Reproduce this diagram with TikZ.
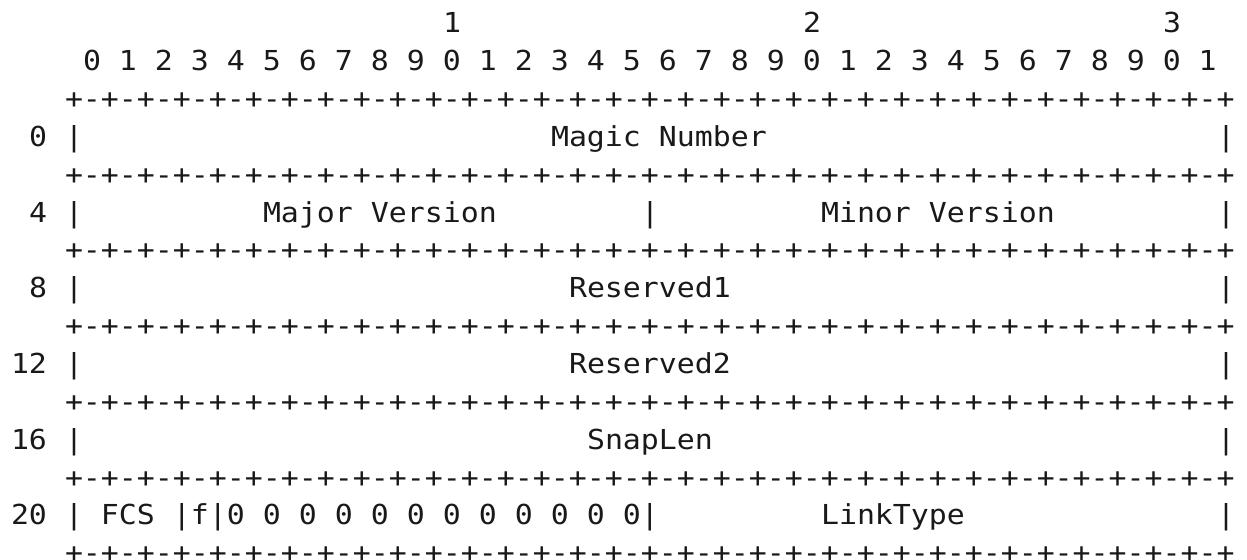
\documentclass[tikz,border=0pt]{standalone}
\usepackage{fontspec}
\newfontfamily\monofont[FakeStretch=1.087]{DejaVu Sans Mono}
\tikzset{
  txt/.style={anchor=base west, inner sep=0pt, outer sep=0pt,
    font=\monofont\fontsize{13.75pt}{17pt}\selectfont, text=black!90}
}
% place text at column #2, row #3
\newcommand\putcell[4]{\node[txt] (#1) at ({11+18*#2},{527.2-37.86*#3}) {#4};}
\newcommand\seprow[2]{\putcell{#1}{3}{#2}{+-+-+-+-+-+-+-+-+-+-+-+-+-+-+-+-+-+-+-+-+-+-+-+-+-+-+-+-+-+-+-+-+}}
\begin{document}
\begin{tikzpicture}[x=0.5pt,y=0.5pt]
\useasboundingbox (0,0) rectangle (1247,560);
% header
\putcell{ten}{24}{0}{1}
\putcell{twenty}{44}{0}{2}
\putcell{thirty}{64}{0}{3}
\putcell{bits}{4}{1}{0 1 2 3 4 5 6 7 8 9 0 1 2 3 4 5 6 7 8 9 0 1 2 3 4 5 6 7 8 9 0 1}
\seprow{sepA}{2}
% row 0
\putcell{offA}{1}{3}{0}
\putcell{barAl}{3}{3}{|}
\putcell{magic}{30}{3}{Magic Number}
\putcell{barAr}{67}{3}{|}
\seprow{sepB}{4}
% row 4
\putcell{offB}{1}{5}{4}
\putcell{barBl}{3}{5}{|}
\putcell{major}{14}{5}{Major Version}
\putcell{barBm}{35}{5}{|}
\putcell{minor}{45}{5}{Minor Version}
\putcell{barBr}{67}{5}{|}
\seprow{sepC}{6}
% row 8
\putcell{offC}{1}{7}{8}
\putcell{barCl}{3}{7}{|}
\putcell{resA}{31}{7}{Reserved1}
\putcell{barCr}{67}{7}{|}
\seprow{sepD}{8}
% row 12
\putcell{offD}{0}{9}{12}
\putcell{barDl}{3}{9}{|}
\putcell{resB}{31}{9}{Reserved2}
\putcell{barDr}{67}{9}{|}
\seprow{sepE}{10}
% row 16
\putcell{offE}{0}{11}{16}
\putcell{barEl}{3}{11}{|}
\putcell{snap}{32}{11}{SnapLen}
\putcell{barEr}{67}{11}{|}
\seprow{sepF}{12}
% row 20
\putcell{offF}{0}{13}{20}
\putcell{fcs}{3}{13}{| FCS |f|0 0 0 0 0 0 0 0 0 0 0 0|}
\putcell{link}{45}{13}{LinkType}
\putcell{barFr}{67}{13}{|}
\seprow{sepG}{14}
\end{tikzpicture}
\end{document}
